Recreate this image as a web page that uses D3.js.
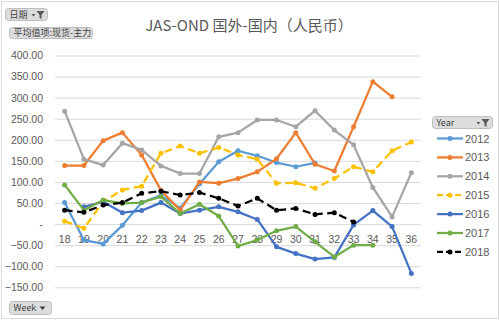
<!DOCTYPE html>
<html>
<head>
<meta charset="utf-8">
<script src="https://cdn.jsdelivr.net/npm/d3@7"></script>
<style>
  body { margin: 0; background: #fff; }
  svg { display: block; }
</style>
</head>
<body>
<script>
// week numbers on the category axis
const weeks = ['18','19','20','21','22','23','24','25','26','27','28','29','30','31','32','33','34','35','36'];
const years = ['2012','2013','2014','2015','2016','2017','2018'];

// average spread per week, one array per year (null = no data)
const y2012 = [51, -38, -47, -3, 51, 68, 38, 95, 148, 174, 162, 146, 136, 145, null, null, null, null, null];
const y2013 = [139, 139, 198, 217, 164, 80, 33, 100, 97, 108, 124, 155, 217, 142, 126, 231, 338, 302, null];
const y2014 = [268, 154, 140, 192, 176, 138, 120, 120, 207, 217, 247, 247, 231, 269, 223, 188, 87, 17, 122];
const y2015 = [7, -10, 53, 81, 90, 168, 185, 168, 182, 164, 154, 97, 98, 85, 108, 136, 124, 174, 195];
const y2016 = [null, 41, 53, 27, 32, 51, 25, 33, 41, 29, 11, -54, -70, -83, -79, -2, 32, -6, -117];
const y2017 = [93, 33, 57, 49, 51, 65, 25, 47, 19, -52, -38, -16, -6, -42, -78, -50, -50, null, null];
const y2018 = [33, 28, 45, 51, 73, 78, 69, 75, 61, 43, 61, 33, 37, 23, 27, 5, null, null, null];

const yTicks = [400, 350, 300, 250, 200, 150, 100, 50, 0, -50, -100, -150];

const colors = ['#5B9BD5', '#ED7D31', '#A5A5A5', '#FFC000', '#4472C4', '#70AD47', '#000000'];
const dashed = [false, false, false, true, false, false, true];
const values = [y2012, y2013, y2014, y2015, y2016, y2017, y2018];

const width = 500, height = 321;

const series = years.map(function(name, i) {
  return { name: name, color: colors[i], dash: dashed[i],
    points: weeks.map(function(w, j) { return { week: w, v: values[i][j] }; }) };
});

const svg = d3.select('body').append('svg')
  .attr('width', width)
  .attr('height', height);

// outer frame
svg.append('rect')
  .attr('x', 1.5).attr('y', 1.5)
  .attr('width', width - 3).attr('height', height - 4)
  .attr('fill', '#fff')
  .attr('stroke', '#D9D9D9');

const x = d3.scaleBand().domain(weeks).range([55, 421]);
const y = d3.scaleLinear().domain([-150, 400]).range([287.3, 55.5]);

const numFmt = function(d) { return d === 0 ? '-' : d3.format('.2f')(d); };

// grid + y labels
const yAxis = svg.append('g')
  .attr('transform', 'translate(55,0)')
  .call(d3.axisLeft(y).tickValues(yTicks).tickSize(-366).tickPadding(12).tickFormat(numFmt));
yAxis.select('.domain').remove();
yAxis.selectAll('line').attr('stroke', '#D9D9D9');
yAxis.selectAll('text')
  .attr('fill', '#595959')
  .style('font', '10.5px "Liberation Sans", Arial, sans-serif');

// week labels sit under the zero line
const xAxis = svg.append('g')
  .attr('transform', 'translate(0,' + y(0) + ')')
  .call(d3.axisBottom(x).tickSize(0).tickPadding(11));
xAxis.select('.domain').remove();
xAxis.selectAll('text')
  .attr('fill', '#595959')
  .style('font', '10.5px "Liberation Sans", Arial, sans-serif');

const line = d3.line()
  .defined(function(d) { return d.v !== null; })
  .x(function(d) { return x(d.week) + x.bandwidth() / 2; })
  .y(function(d) { return y(d.v); });

const g = svg.selectAll('.series')
  .data(series)
  .enter().append('g')
  .attr('class', 'series');

g.append('path')
  .attr('d', function(d) { return line(d.points); })
  .attr('fill', 'none')
  .attr('stroke', function(d) { return d.color; })
  .attr('stroke-width', 2.25)
  .attr('stroke-linejoin', 'round')
  .attr('stroke-dasharray', function(d) { return d.dash ? '8,4.5' : null; });

g.selectAll('circle')
  .data(function(d) { return d.points.filter(function(p) { return p.v !== null; }).map(function(p) { return { p: p, c: d.color }; }); })
  .enter().append('circle')
  .attr('cx', function(d) { return x(d.p.week) + x.bandwidth() / 2; })
  .attr('cy', function(d) { return y(d.p.v); })
  .attr('r', 2.5)
  .attr('fill', function(d) { return d.c; });

// title
svg.append('text')
  .attr('x', 249).attr('y', 31)
  .attr('text-anchor', 'middle')
  .attr('fill', '#595959')
  .style('font', '15px "Noto Sans CJK SC", "Noto Sans", sans-serif')
  .text('JAS-OND 国外-国内（人民币）');

// pivot-style field buttons
function button(bx, by, bw, bh, label, icon) {
  const b = svg.append('g').attr('transform', 'translate(' + bx + ',' + by + ')');
  b.append('rect')
    .attr('width', bw).attr('height', bh).attr('rx', 3)
    .attr('fill', '#DCDCDC').attr('stroke', '#BDBDBD');
  b.append('text')
    .attr('x', 4).attr('y', bh / 2 + 3.2)
    .attr('fill', '#404040')
    .style('font', '9px "Noto Sans CJK SC", "Liberation Sans", sans-serif')
    .text(label);
  if (icon === 'filter') {
    b.append('path')
      .attr('d', 'M' + (bw - 11) + ',2.5 h8 l-3,4 v4 l-2,-1.3 v-2.7 z')
      .attr('fill', '#595959');
    b.append('path')
      .attr('d', 'M' + (bw - 16) + ',5.5 h4 l-2,2.5 z')
      .attr('fill', '#595959');
  } else if (icon === 'down') {
    b.append('path')
      .attr('d', 'M' + (bw - 12) + ',' + (bh / 2 - 1.5) + ' h6 l-3,3.5 z')
      .attr('fill', '#404040');
  }
}
button(5.5, 8.5, 42, 12, '日期', 'filter');
button(9.5, 27.5, 83, 11, '平均值项:现货-主力', null);
button(9.5, 301.5, 42, 13, 'Week', 'down');
button(432.5, 116.5, 60, 12, 'Year', 'filter');

// legend
const leg = svg.selectAll('.leg')
  .data(series)
  .enter().append('g')
  .attr('class', 'leg')
  .attr('transform', function(d, i) { return 'translate(437,' + (138.5 + i * 18.9) + ')'; });
leg.append('line')
  .attr('x1', 0).attr('x2', 26)
  .attr('stroke', function(d) { return d.color; })
  .attr('stroke-width', 2.25)
  .attr('stroke-dasharray', function(d) { return d.dash ? '6,3' : null; });
leg.append('circle')
  .attr('cx', 13).attr('r', 2.5)
  .attr('fill', function(d) { return d.color; });
leg.append('text')
  .attr('x', 28).attr('y', 4)
  .attr('fill', '#595959')
  .style('font', '11px "Liberation Sans", Arial, sans-serif')
  .text(function(d) { return d.name; });
</script>
</body>
</html>
